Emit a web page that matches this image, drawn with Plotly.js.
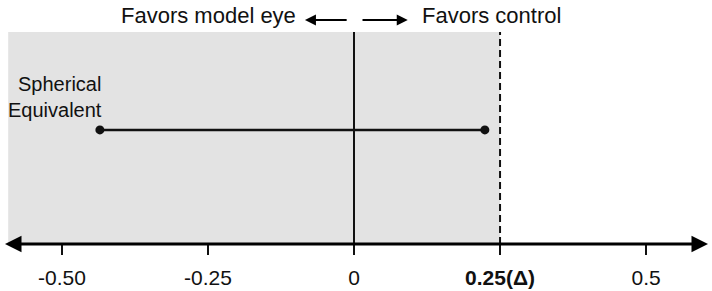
<!DOCTYPE html>
<html><head><meta charset="utf-8">
<script src="https://cdn.plot.ly/plotly-3.0.1.min.js"></script>
<style>html,body{margin:0;padding:0;background:#fff}#chart{width:712px;height:291px}</style>
</head><body><div id="chart"></div>
<script>
// Data
const outcomes = ['Spherical Equivalent'];
const ciLower = [-0.435];
const ciUpper = [0.224];
const rowY = [0.538];
const margin = 0.25;            // non-inferiority margin (Δ)
const shadeStart = -0.592;
const tickVals = [-0.5, -0.25, 0, 0.25, 0.5];
const tickText = ['-0.50', '-0.25', '0', '<b>0.25(Δ)</b>', '0.5'];
const xRange = [-0.606, 0.606];
const axisArrowLeft = -0.6, axisArrowRight = 0.606;
const leftArrow = [-0.010, -0.084];
const rightArrow = [0.012, 0.092];

const FONT = 'Arial, "Liberation Sans", sans-serif';

const traces = outcomes.map((name, i) => ({
  x: [ciLower[i], ciUpper[i]],
  y: [rowY[i], rowY[i]],
  mode: 'lines+markers',
  line: {color: '#111', width: 2.5},
  marker: {color: '#111', size: 9},
  hoverinfo: 'skip',
  showlegend: false
}));

const shapes = [
  {type: 'rect', xref: 'x', yref: 'paper', x0: shadeStart, x1: margin, y0: 0, y1: 1,
   fillcolor: '#e3e3e3', line: {width: 0}, layer: 'below'},
  {type: 'line', xref: 'x', yref: 'paper', x0: 0, x1: 0, y0: 0, y1: 1,
   line: {color: '#111', width: 2}},
  {type: 'line', xref: 'x', yref: 'paper', x0: margin, x1: margin, y0: 0, y1: 1,
   line: {color: '#111', width: 2, dash: '7px,4px'}}
];

const annotations = [
  // axis line with arrows both ends
  {x: axisArrowRight, y: 0, xref: 'x', yref: 'paper', ax: axisArrowLeft, ay: 0, axref: 'x', ayref: 'paper',
   showarrow: true, arrowside: 'end+start', arrowhead: 2, arrowsize: 1.1, arrowwidth: 3, arrowcolor: '#000', text: ''},
  // direction arrows
  {x: leftArrow[1], y: 1.057, xref: 'x', yref: 'paper', ax: leftArrow[0], ay: 1.057, axref: 'x', ayref: 'paper',
   showarrow: true, arrowhead: 2, arrowsize: 1.1, arrowwidth: 2, arrowcolor: '#000', text: ''},
  {x: rightArrow[1], y: 1.057, xref: 'x', yref: 'paper', ax: rightArrow[0], ay: 1.057, axref: 'x', ayref: 'paper',
   showarrow: true, arrowhead: 2, arrowsize: 1.1, arrowwidth: 2, arrowcolor: '#000', text: ''},
  {x: -0.096, y: 1.08, xref: 'x', yref: 'paper', xanchor: 'right', yanchor: 'middle', showarrow: false,
   text: 'Favors model eye', font: {family: FONT, size: 22, color: '#111'}},
  {x: 0.113, y: 1.08, xref: 'x', yref: 'paper', xanchor: 'left', yanchor: 'middle', showarrow: false,
   text: 'Favors control', font: {family: FONT, size: 22, color: '#111'}},
  ...outcomes.map((name, i) => ({
    x: -0.428, y: rowY[i] + 0.155, xref: 'x', yref: 'y', xanchor: 'right', yanchor: 'middle', align: 'right',
    showarrow: false, text: name.replace(' ', '<br>'), font: {family: FONT, size: 20, color: '#111'}
  }))
];

const layout = {
  width: 712, height: 291,
  margin: {l: 0, r: 4, t: 32, b: 47},
  paper_bgcolor: '#fff', plot_bgcolor: '#fff',
  font: {family: FONT, color: '#111'},
  xaxis: {range: xRange, tickvals: tickVals, ticktext: tickText, ticks: 'outside', ticklen: 10,
          tickwidth: 1.5, tickcolor: '#111', showgrid: false, zeroline: false, showline: false,
          ticklabelstandoff: 5,
          tickfont: {family: FONT, size: 21, color: '#111'}, fixedrange: true},
  yaxis: {range: [0, 1], visible: false, showgrid: false, zeroline: false, fixedrange: true},
  shapes, annotations
};

Plotly.newPlot('chart', traces, layout, {displayModeBar: false, staticPlot: true});
</script></body></html>
